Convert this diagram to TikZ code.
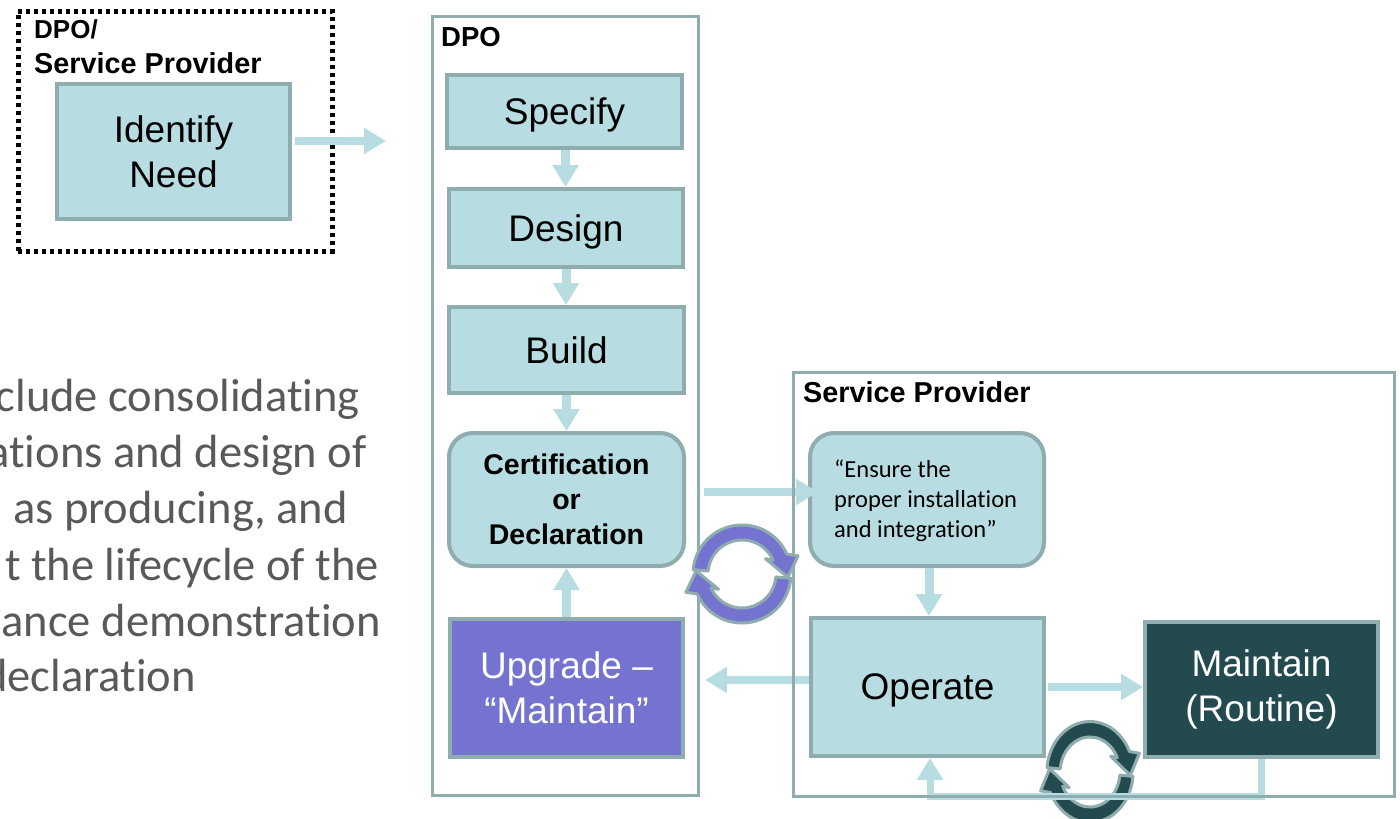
\documentclass[tikz,border=0pt]{standalone}
\usepackage{fontspec}
\setmainfont{Liberation Sans}
\newfontfamily\carl[Ligatures=CommonOff]{Carlito}
\usetikzlibrary{arrows.meta}
\definecolor{blockfill}{HTML}{B7DDE2}
\definecolor{blockedge}{HTML}{8FACAF}
\definecolor{purplefill}{HTML}{7473D0}
\definecolor{darkfill}{HTML}{224A4F}
\definecolor{bodygray}{HTML}{595959}
\newcommand{\fsz}[2]{\fontsize{#1pt}{#2pt}\selectfont}
% centre, rotation, colour, xscale, yscale
\newcommand{\cycarrow}[5]{%
 \begin{scope}[shift={(#1)},y=1pt,xscale=#4,yscale=#5,rotate=#2]
  \path[cyc,fill=#3] (175:49pt) arc[start angle=175,end angle=24,radius=49pt]
   -- (18:59pt) -- (-4:46pt) -- (33:28pt) -- (24:34pt)
   arc[start angle=24,end angle=175,radius=34pt] -- cycle;
 \end{scope}}
\tikzset{
 x=1pt,y=-1pt,
 cyc/.style={draw=blockedge,line width=3pt,line join=round},
 blk/.style={draw=blockedge,fill=blockfill,line width=4pt,inner sep=0pt,align=center,text=black,font=\fsz{37}{45}},
 rblk/.style={blk,rounded corners=24pt,font=\bfseries\fsz{28.5}{35}},
 frame/.style={draw=blockedge,line width=3pt,inner sep=0pt},
 dots/.style={draw=black,line width=5pt,dash pattern=on 4pt off 4pt,inner sep=0pt},
 title/.style={anchor=base west,inner sep=0pt,text=black,font=\bfseries\fsz{27.5}{30}},
 longtitle/.style={title,font=\bfseries\fsz{28.8}{30}},
 flow/.style={draw=blockfill,line width=8pt,-{Triangle[width=25pt,length=22pt]}},
 vflow/.style={flow,line width=9pt},
 body/.style={inner sep=0pt,text=bodygray,font=\carl\fsz{46.5}{50}},
}
\begin{document}
\begin{tikzpicture}
\useasboundingbox (0,0) rectangle (1400,819);
\fill[white] (0,0) rectangle (1400,819);

% body text, cut by the slide edge
\node[body,anchor=base east] (t1) at (360,411) {clude consolidating};
\node[body,anchor=base east] (t2) at (367,467) {ations and design of};
\node[body,anchor=base east] (t3) at (348,523) {as producing, and};
\node[body,anchor=base east] (t4) at (379,580) {t the lifecycle of the};
\node[body,anchor=base east] (t5) at (381,636) {ance demonstration};
\node[body,anchor=base east] (t6) at (196,691) {declaration};

% needs box
\node[dots,minimum width=314pt,minimum height=240pt] (need) at (175,131) {};
\node[title,font=\bfseries\fsz{26}{30}] (needa) at (34,38) {DPO/};
\node[longtitle] (needb) at (34,73) {Service Provider};
\node[blk,minimum width=233pt,minimum height=135pt] (identify) at (173.5,151.5) {Identify\\Need};
\coordinate (dpoin) at (386,141);

% containers
\node[frame,minimum width=266pt,minimum height=779pt] (dpo) at (565,405.5) {};
\node[title] (dpot) at (441,46) {DPO};

\node[blk,text depth=0pt,minimum width=235pt,minimum height=73pt] (specify) at (564.5,111.5) {Specify};
\node[blk,text depth=0pt,minimum width=234pt,minimum height=78pt] (design) at (566,228) {Design};
\node[blk,minimum width=235pt,minimum height=86pt] (build) at (566.5,350) {Build};
\node[rblk,minimum width=235pt,minimum height=133pt] (cert) at (566.5,499.5) {Certification\\or\\Declaration};
\node[blk,fill=purplefill,text=white,minimum width=233pt,minimum height=138pt] (upgrade) at (566.5,688) {Upgrade --\\“Maintain”};

\node[blk,rounded corners=24pt,minimum width=234pt,minimum height=133pt] (ensure) at (927,499.5) {};
\node[inner sep=0pt,anchor=base west,align=left,text=black,font=\carl\fsz{24.5}{30}] (ensuret) at (834,537) {“Ensure the\\proper installation\\and integration”};
\node[blk,text depth=0pt,minimum width=233pt,minimum height=138pt] (operate) at (927.5,687) {Operate};
\node[blk,fill=darkfill,text=white,minimum width=233pt,minimum height=135pt] (maintain) at (1261.5,689.5) {Maintain\\(Routine)};

% dark cycle sits under the return flow
\cycarrow{1090,772}{0}{darkfill}{0.88}{1.03}
\cycarrow{1090,772}{180}{darkfill}{0.88}{1.03}

% flows
\draw[flow] ([xshift=3pt]identify.east |- 0,141) -- (dpoin);
\draw[vflow] ([xshift=1pt]specify.south) -- ([xshift=1pt]specify.south |- design.north);
\draw[vflow] (design.south) -- (design.south |- build.north);
\draw[vflow] (build.south) -- (build.south |- cert.north);
\draw[vflow] (upgrade.north) -- (upgrade.north |- cert.south);
\draw[flow] ([xshift=18pt]cert.east |- 0,492) -- ([xshift=10pt]ensure.west |- 0,492);
\draw[vflow] ([xshift=2pt]ensure.south) -- ([xshift=2pt]ensure.south |- operate.north);
\draw[flow] (operate.west |- 0,680) -- ([xshift=20pt]upgrade.east |- 0,680);
\draw[flow] ([xshift=2pt]operate.east |- 0,687) -- (maintain.west |- 0,687);
\draw[flow,line width=7pt] (maintain.south) -- (maintain.south |- 0,796) -- ([xshift=2.5pt]operate.south |- 0,796) -- ([xshift=2.5pt]operate.south);

\node[frame,minimum width=601pt,minimum height=424pt] (sp) at (1093.5,584) {};
\node[longtitle] (spt) at (803,402) {Service Provider};

% purple cycle on top
\cycarrow{742,574}{0}{purplefill}{1}{1}
\cycarrow{742,574}{180}{purplefill}{1}{1}
\end{tikzpicture}
\end{document}
